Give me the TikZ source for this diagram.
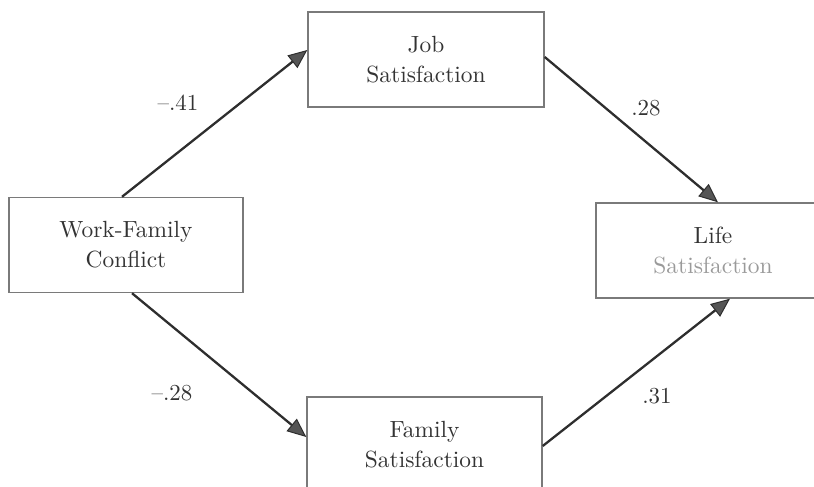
\documentclass[tikz,border=0pt]{standalone}
\usepackage{fontspec}
\setmainfont{lmroman10-regular.otf}
\usetikzlibrary{arrows.meta}
\definecolor{boxline}{HTML}{7A7A7A}
\definecolor{txt}{HTML}{333333}
\definecolor{arrline}{HTML}{2E2E2E}
\definecolor{tipfill}{HTML}{555555}
\definecolor{fadetxt}{HTML}{9A9A9A}
\tikzset{
  boxnode/.style={draw=boxline, line width=1.4bp, rectangle, minimum width=234bp, minimum height=95bp,
    inner sep=0pt, align=center, text=txt, font=\fontsize{23.5}{30}\selectfont},
  pathline/.style={draw=arrline, line width=2.3bp,
    -{Triangle[length=19bp,width=16bp,fill=tipfill,line width=1bp]}},
  coef/.style={text=txt, font=\fontsize{23}{25}\selectfont, inner sep=0pt}
}
\begin{document}
\begin{tikzpicture}[x=1bp,y=-1bp]
\useasboundingbox (0,0) rectangle (814,487);
\clip (0,0) rectangle (814,487);
\node[boxnode] (wfc) at (126,245) {Work-Family\\Conflict};
\node[boxnode, minimum width=236bp] (job) at (426,59.5) {Job\\Satisfaction};
\node[boxnode, minimum width=235bp] (fam) at (424.5,444.5) {Family\\Satisfaction};
\node[boxnode] (life) at (713,250.5) {Life\\\textcolor{fadetxt}{Satisfaction}};
\draw[pathline] ([xshift=-4bp]wfc.north) -- ([yshift=9.5bp]job.west);
\draw[pathline] ([yshift=2.5bp]job.east) -- ([xshift=5bp]life.north);
\draw[pathline] ([xshift=6bp]wfc.south) -- ([yshift=7.5bp]fam.west);
\draw[pathline] ([yshift=-1.5bp]fam.east) -- ([xshift=17bp]life.south);
\node[coef] (c1) at (178,103) {--.41};
\node[coef] (c2) at (646,108) {.28};
\node[coef] (c3) at (172,393) {--.28};
\node[coef] (c4) at (657,396) {.31};
\end{tikzpicture}
\end{document}
